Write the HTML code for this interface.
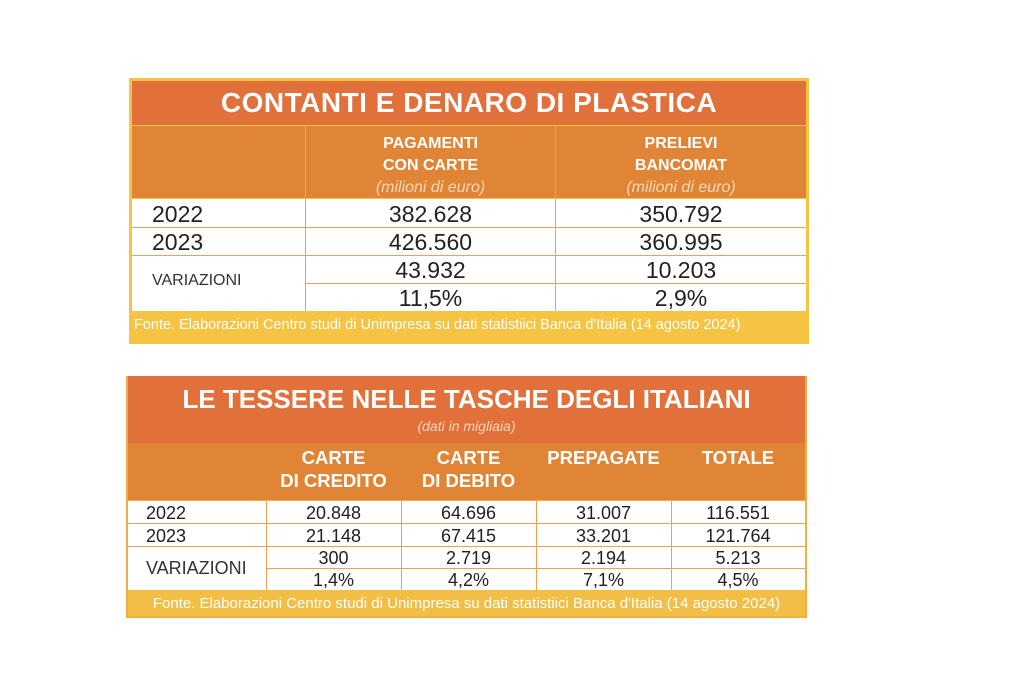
<!DOCTYPE html>
<html><head><meta charset="utf-8"><style>
body{margin:0;width:1024px;height:683px;background:#fff;position:relative;overflow:hidden;font-family:"Liberation Sans",sans-serif}
div{position:absolute;box-sizing:border-box}
.t{color:#fff;font-weight:bold;text-align:center}
.c{text-align:center;color:#222}
.ln{background:#f0a050}
</style></head><body>
<!-- Table 1 -->
<div style="left:129px;top:78px;width:680px;height:266px;background:#f6c342"></div>
<div style="left:132px;top:81px;width:674px;height:44px;background:#e2703a"></div>
<div class="t" style="left:132px;top:87px;width:674px;font-size:28px;letter-spacing:0.5px">CONTANTI E DENARO DI PLASTICA</div>
<div style="left:132px;top:126px;width:674px;height:72px;background:#e08536"></div>
<div style="left:132px;top:199px;width:674px;height:112px;background:#fff"></div>
<div class="ln" style="left:305px;top:126px;width:1px;height:185px"></div>
<div class="ln" style="left:555px;top:126px;width:1px;height:185px"></div>
<div class="ln" style="left:132px;top:227px;width:674px;height:1px"></div>
<div class="ln" style="left:132px;top:255px;width:674px;height:1px"></div>
<div class="ln" style="left:305px;top:283px;width:501px;height:1px"></div>
<div class="t" style="left:306px;top:133px;width:249px;font-size:16px;line-height:22px">PAGAMENTI<br>CON CARTE<br><span style="font-weight:normal;font-style:italic;color:#f8d8b8">(milioni di euro)</span></div>
<div class="t" style="left:556px;top:133px;width:250px;font-size:16px;line-height:22px">PRELIEVI<br>BANCOMAT<br><span style="font-weight:normal;font-style:italic;color:#f8d8b8">(milioni di euro)</span></div>
<div style="left:152px;top:201px;font-size:23px;color:#222">2022</div>
<div style="left:152px;top:229px;font-size:23px;color:#222">2023</div>
<div style="left:152px;top:272px;font-size:16px;color:#333">VARIAZIONI</div>
<div class="c" style="left:306px;top:201px;width:249px;font-size:23px">382.628</div>
<div class="c" style="left:556px;top:201px;width:250px;font-size:23px">350.792</div>
<div class="c" style="left:306px;top:229px;width:249px;font-size:23px">426.560</div>
<div class="c" style="left:556px;top:229px;width:250px;font-size:23px">360.995</div>
<div class="c" style="left:306px;top:257px;width:249px;font-size:23px">43.932</div>
<div class="c" style="left:556px;top:257px;width:250px;font-size:23px">10.203</div>
<div class="c" style="left:306px;top:285px;width:249px;font-size:23px">11,5%</div>
<div class="c" style="left:556px;top:285px;width:250px;font-size:23px">2,9%</div>
<div style="left:134px;top:317px;font-size:14.5px;color:#fff;white-space:nowrap">Fonte. Elaborazioni Centro studi di Unimpresa su dati statistiici Banca d'Italia (14 agosto 2024)</div>
<!-- Table 2 -->
<div style="left:126px;top:376px;width:681px;height:242px;background:#f0b040"></div>
<div style="left:128px;top:376px;width:677px;height:67px;background:#e2703a"></div>
<div class="t" style="left:128px;top:384px;width:677px;font-size:26px">LE TESSERE NELLE TASCHE DEGLI ITALIANI</div>
<div style="left:128px;top:418px;width:677px;text-align:center;font-size:14px;font-style:italic;color:#f8d8b8">(dati in migliaia)</div>
<div style="left:128px;top:443px;width:677px;height:57px;background:#e08536"></div>
<div style="left:128px;top:501px;width:677px;height:89px;background:#fff"></div>
<div class="ln" style="left:266px;top:501px;width:1px;height:89px"></div>
<div class="ln" style="left:401px;top:501px;width:1px;height:89px"></div>
<div class="ln" style="left:536px;top:501px;width:1px;height:89px"></div>
<div class="ln" style="left:671px;top:501px;width:1px;height:89px"></div>
<div class="ln" style="left:128px;top:523px;width:677px;height:1px"></div>
<div class="ln" style="left:128px;top:546px;width:677px;height:1px"></div>
<div class="ln" style="left:266px;top:568px;width:539px;height:1px"></div>
<div class="t" style="left:266px;top:446px;width:135px;font-size:18.5px;line-height:23px">CARTE<br>DI CREDITO</div>
<div class="t" style="left:401px;top:446px;width:135px;font-size:18.5px;line-height:23px">CARTE<br>DI DEBITO</div>
<div class="t" style="left:536px;top:446px;width:135px;font-size:18.5px;line-height:23px">PREPAGATE</div>
<div class="t" style="left:671px;top:446px;width:134px;font-size:18.5px;line-height:23px">TOTALE</div>
<div style="left:146px;top:503px;font-size:18px;color:#222">2022</div>
<div style="left:146px;top:526px;font-size:18px;color:#222">2023</div>
<div style="left:146px;top:558px;font-size:18px;color:#333">VARIAZIONI</div>
<div class="c" style="left:266px;top:503px;width:135px;font-size:18px">20.848</div>
<div class="c" style="left:401px;top:503px;width:135px;font-size:18px">64.696</div>
<div class="c" style="left:536px;top:503px;width:135px;font-size:18px">31.007</div>
<div class="c" style="left:671px;top:503px;width:134px;font-size:18px">116.551</div>
<div class="c" style="left:266px;top:526px;width:135px;font-size:18px">21.148</div>
<div class="c" style="left:401px;top:526px;width:135px;font-size:18px">67.415</div>
<div class="c" style="left:536px;top:526px;width:135px;font-size:18px">33.201</div>
<div class="c" style="left:671px;top:526px;width:134px;font-size:18px">121.764</div>
<div class="c" style="left:266px;top:548px;width:135px;font-size:18px">300</div>
<div class="c" style="left:401px;top:548px;width:135px;font-size:18px">2.719</div>
<div class="c" style="left:536px;top:548px;width:135px;font-size:18px">2.194</div>
<div class="c" style="left:671px;top:548px;width:134px;font-size:18px">5.213</div>
<div class="c" style="left:266px;top:570px;width:135px;font-size:18px">1,4%</div>
<div class="c" style="left:401px;top:570px;width:135px;font-size:18px">4,2%</div>
<div class="c" style="left:536px;top:570px;width:135px;font-size:18px">7,1%</div>
<div class="c" style="left:671px;top:570px;width:134px;font-size:18px">4,5%</div>
<div style="left:128px;top:590px;width:677px;height:26px;background:#f2be45"></div>
<div style="left:128px;top:595px;width:677px;text-align:center;font-size:15px;color:#fff;white-space:nowrap">Fonte. Elaborazioni Centro studi di Unimpresa su dati statistiici Banca d'Italia (14 agosto 2024)</div>
</body></html>
